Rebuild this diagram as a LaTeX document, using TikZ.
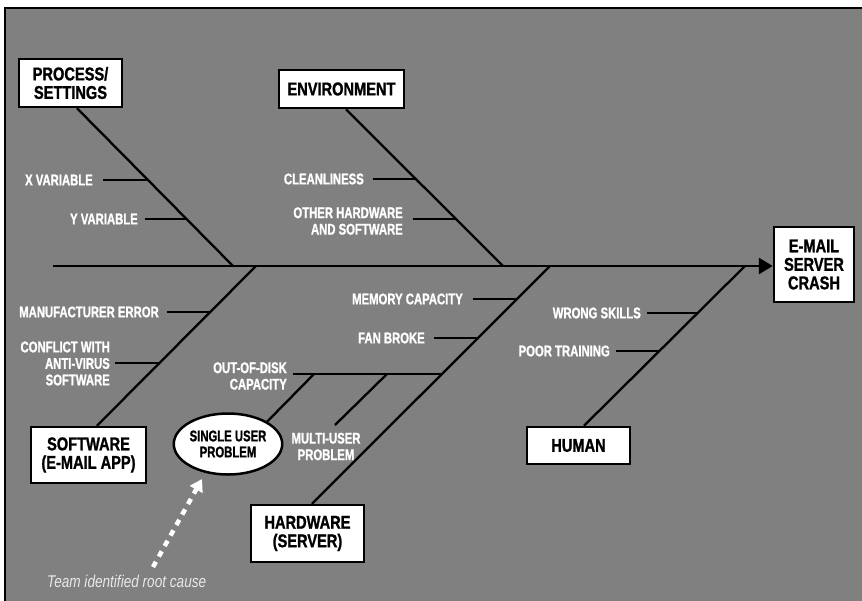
\documentclass[tikz,border=0pt]{standalone}
\usepackage{fontspec}
\setmainfont{Liberation Sans}
\newfontfamily\cond[FakeStretch=0.8]{Liberation Sans}
\newfontfamily\heavybox[FakeStretch=0.79,FakeBold=1.2]{Liberation Sans}
\newfontfamily\heavylbl[FakeStretch=0.73,FakeBold=1.1]{Liberation Sans}
\usetikzlibrary{arrows.meta,shapes.geometric}
\definecolor{panel}{RGB}{128,128,128}
\definecolor{note}{RGB}{232,232,232}
\begin{document}
\begin{tikzpicture}[x=1pt,y=-1pt,
  cause/.style={draw=black, fill=white, line width=2.5pt, align=center, inner sep=0pt,
    font=\heavybox\bfseries\fontsize{18.5}{18.5}\selectfont},
  lbl/.style={text=white, anchor=east, align=right, inner sep=0pt,
    font=\heavylbl\bfseries\fontsize{15.5}{16.5}\selectfont},
  bone/.style={line width=2.3pt, black},
  twig/.style={line width=2.3pt, black}
]
% page and panel
\clip (0,0) rectangle (862,600);
\fill[white] (0,0) rectangle (862,600);
\draw[line width=2pt, fill=panel] (5,8) rectangle (880,620);

% effect
\node[cause, minimum width=80pt, minimum height=75pt] (head) at (814,264.5) {E-MAIL\\SERVER\\CRASH};
\coordinate (tail) at (53,266);
\draw[line width=2.8pt, -{Triangle[length=14pt,width=16pt]}] (tail) -- (head.west |- tail);

% category boxes
\node[cause, minimum width=103pt, minimum height=48pt] (ps)  at (70.5,83)   {PROCESS/\\SETTINGS};
\node[cause, minimum width=125pt, minimum height=38pt] (env) at (341.5,89)  {ENVIRONMENT};
\node[cause, minimum width=115pt, minimum height=56pt] (sw)  at (88.5,455)  {SOFTWARE\\(E-MAIL APP)};
\node[cause, minimum width=113pt, minimum height=57pt] (hw)  at (307.5,533.5) {HARDWARE\\(SERVER)};
\node[cause, minimum width=103pt, minimum height=37pt] (hu)  at (578.5,445.5) {HUMAN};

% junctions on the spine
\coordinate (jps)  at (233,266);
\coordinate (jenv) at (503,266);
\coordinate (jsw)  at (256,266);
\coordinate (jhw)  at (550,266);
\coordinate (jhu)  at (745,266);

% main bones
\draw[bone] ([xshift=6.5pt]ps.south) -- (jps);
\draw[bone] ([xshift=4.5pt]env.south) -- (jenv);
\draw[bone] ([xshift=8.5pt]sw.north) -- (jsw);
\draw[bone] ([xshift=4.5pt]hw.north) -- (jhw);
\draw[bone] ([xshift=5.5pt]hu.north) -- (jhu);

% process / settings
\node[lbl] (xv) at (93,180) {X VARIABLE};
\node[lbl] (yv) at (138,219) {Y VARIABLE};
\coordinate (kxv) at (149,180);
\coordinate (kyv) at (187,219);
\draw[twig] ([xshift=10pt]xv.east) -- (kxv);
\draw[twig] ([xshift=7pt]yv.east) -- (kyv);

% environment
\node[lbl] (cl) at (364,179) {CLEANLINESS};
\node[lbl] (oh) at (403,221) {OTHER HARDWARE\\AND SOFTWARE};
\coordinate (kcl) at (417,179);
\coordinate (koh) at (457,219);
\draw[twig] ([xshift=9pt]cl.east) -- (kcl);
\draw[twig] ([xshift=10pt]oh.east |- koh) -- (koh);

% software
\node[lbl] (me) at (159,312) {MANUFACTURER ERROR};
\node[lbl] (cf) at (110,363.5) {CONFLICT WITH\\ANTI-VIRUS\\SOFTWARE};
\coordinate (kme) at (210,312);
\coordinate (kcf) at (160,363);
\draw[twig] ([xshift=8pt]me.east) -- (kme);
\draw[twig] ([xshift=5pt]cf.east |- kcf) -- (kcf);

% hardware
\node[lbl] (mc) at (463,299) {MEMORY CAPACITY};
\node[lbl] (fb) at (425,338) {FAN BROKE};
\coordinate (kmc) at (517,299);
\coordinate (kfb) at (478,338);
\draw[twig] ([xshift=10pt]mc.east) -- (kmc);
\draw[twig] ([xshift=9pt]fb.east) -- (kfb);

\node[lbl] (od) at (287,376) {OUT-OF-DISK\\CAPACITY};
\coordinate (kod) at (442,374);
\draw[twig] ([xshift=6pt]od.east |- kod) -- (kod);

\node[ellipse, draw=black, fill=white, line width=2.5pt, minimum width=90pt, minimum height=61pt,
  inner sep=0pt, align=center, font=\heavylbl\bfseries\fontsize{15.5}{16}\selectfont] (su) at (228,444) {SINGLE USER\\PROBLEM};
\coordinate (ksu) at (314,374);
\draw[twig] (ksu) -- (su.north east);

\node[text=white, align=center, inner sep=0pt, font=\heavylbl\bfseries\fontsize{15.5}{16.5}\selectfont]
  (mu) at (326,446.5) {MULTI-USER\\PROBLEM};
\coordinate (kmu) at (387,374);
\coordinate (emu) at (335,425);
\draw[twig] (kmu) -- (emu);

% human
\node[lbl] (ws) at (641,313) {WRONG SKILLS};
\node[lbl] (pt) at (610,351) {POOR TRAINING};
\coordinate (kws) at (698,313);
\coordinate (kpt) at (660,351);
\draw[twig] ([xshift=6pt]ws.east) -- (kws);
\draw[twig] ([xshift=6pt]pt.east) -- (kpt);

% root-cause pointer
\node[text=note, anchor=west, inner sep=0pt, font=\cond\itshape\fontsize{17}{17}\selectfont]
  (rc) at (47,581) {Team identified root cause};
\coordinate (rs) at (153,567);
\coordinate (rt) at (202,479);
\draw[white, line width=4.5pt, dash pattern=on 6pt off 6pt,
  -{Triangle[length=12pt,width=14pt]}] (rs) -- (rt);
\end{tikzpicture}
\end{document}
